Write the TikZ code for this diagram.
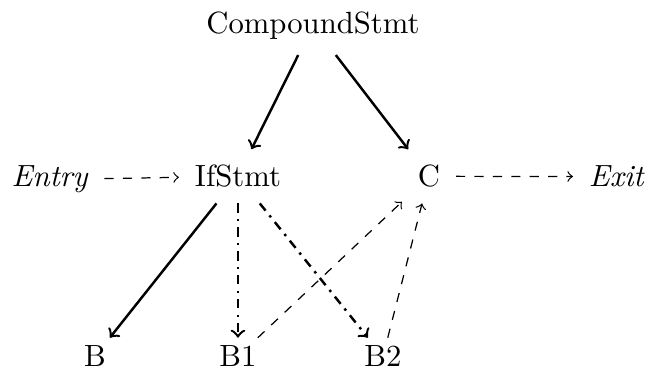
\documentclass[tikz,border=0pt]{standalone}
\usepackage{tikz}
\usetikzlibrary{positioning}
\tikzset{
  stmt/.style={inner sep=5pt, anchor=base},
  leaf/.style={inner xsep=5pt, inner ysep=2.5pt, anchor=base},
  ast/.style={->, thick},
  cond/.style={->, thick, dashdotted},
  cfg/.style={->, dashed},
}

\begin{document}
\begin{tikzpicture}
\useasboundingbox (0,0) rectangle (7.40,4.34);
% syntax tree nodes
\node (cmp) [stmt] at (3.585,3.96) {CompoundStmt};
\node (ifs) [stmt] at (2.726,2.20) {IfStmt};
\node (c)   [stmt] at (4.914,2.20) {C};
\node (b)   [leaf] at (1.088,0.137) {B};
\node (b1)  [leaf] at (2.726,0.137) {B1};
\node (b2)  [leaf] at (4.387,0.137) {B2};
% entry and exit of the flow
\node (entry) [stmt] at (0.573,2.20) {\textit{Entry}};
\node (exit)  [stmt] at (7.067,2.20) {\textit{Exit}};
% children
\draw[ast] (cmp) -- (ifs);
\draw[ast] (cmp) -- (c);
\draw[ast] (ifs) -- (b);
\draw[cond] (ifs) -- (b1);
\draw[cond] (ifs) -- (b2);
% control flow
\draw[cfg] (entry) -- (ifs);
\draw[cfg] (b1) -- (c);
\draw[cfg] (b2) -- (c);
\draw[cfg] (c) -- (exit);
\end{tikzpicture}
\end{document}
